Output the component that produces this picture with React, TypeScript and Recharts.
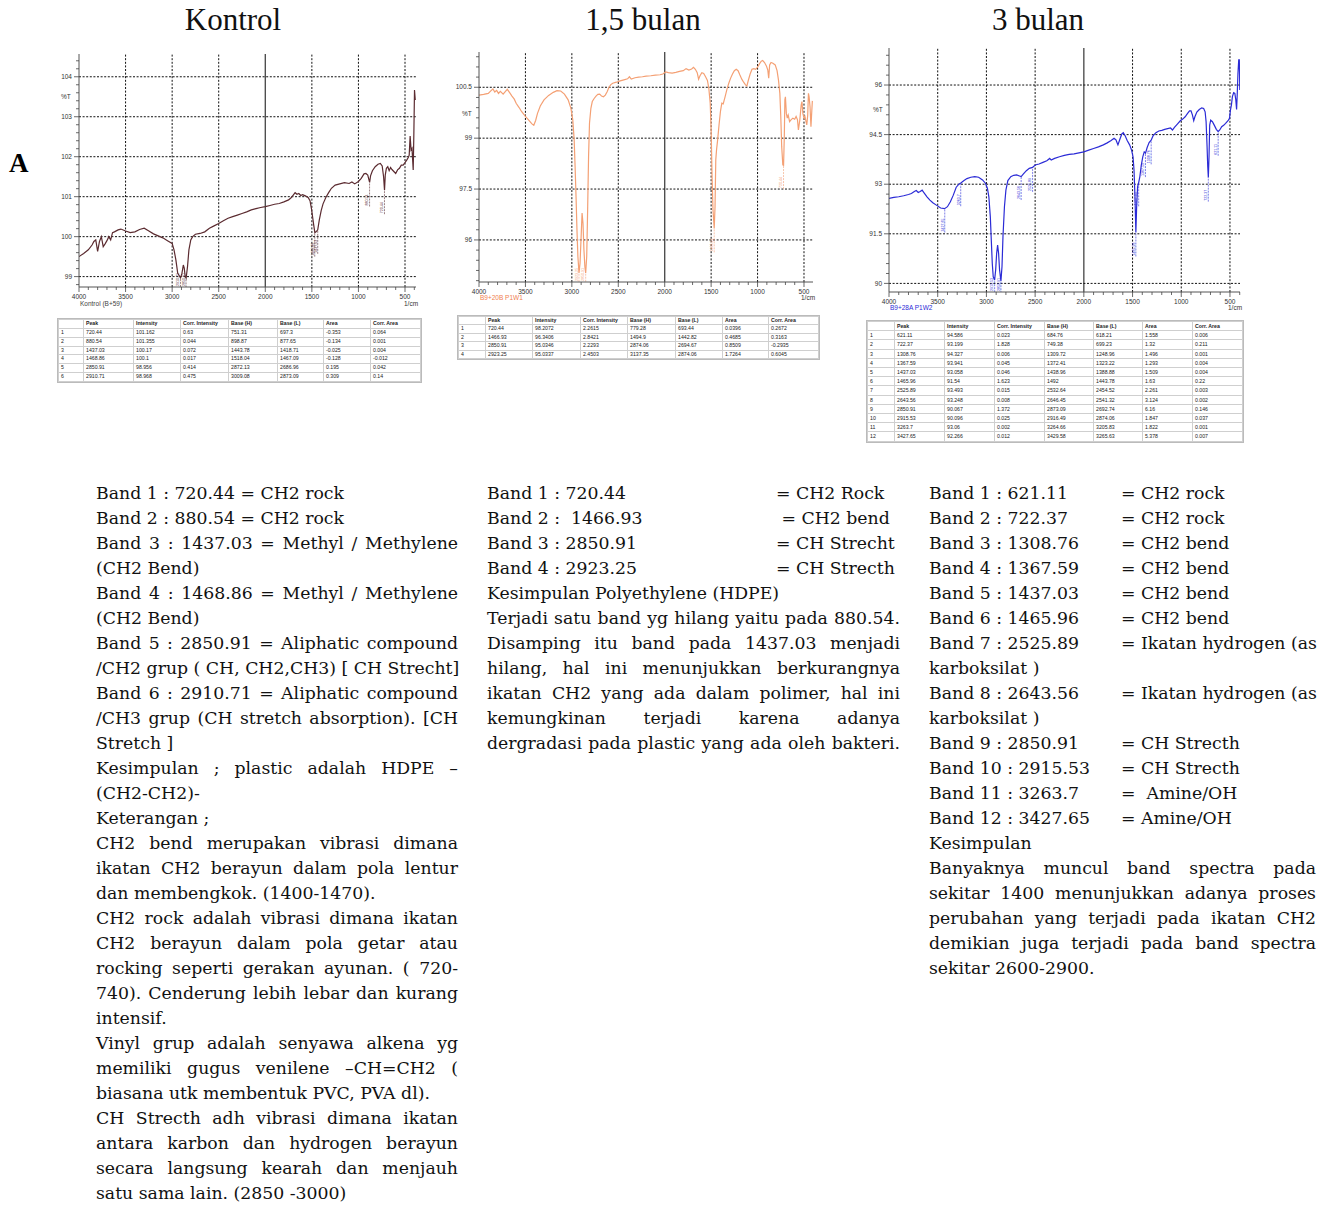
import { Line, LineChart, ReferenceLine, XAxis, YAxis } from 'recharts';

// ---- spectra (wavenumber 1/cm, %T) ----
const kontrolWn = [4000, 3950, 3900, 3860, 3840, 3820, 3800, 3780, 3760, 3740, 3720, 3700, 3680, 3660, 3640, 3620, 3580, 3550, 3500, 3450, 3400, 3350, 3300, 3250, 3200, 3150, 3100, 3050, 3000, 2980, 2960, 2940, 2910, 2895, 2880, 2870, 2860, 2850, 2835, 2820, 2800, 2780, 2750, 2700, 2650, 2600, 2550, 2500, 2450, 2400, 2350, 2300, 2250, 2200, 2150, 2100, 2050, 2000, 1950, 1900, 1850, 1800, 1750, 1720, 1700, 1680, 1660, 1640, 1620, 1600, 1570, 1540, 1520, 1505, 1490, 1480, 1468, 1455, 1437, 1420, 1400, 1380, 1350, 1320, 1290, 1250, 1200, 1150, 1100, 1070, 1040, 1000, 970, 940, 920, 900, 880, 870, 850, 820, 790, 765, 745, 730, 720, 712, 700, 685, 670, 655, 640, 620, 600, 580, 560, 540, 520, 500, 480, 465, 455, 445, 435, 425, 418, 412, 405, 398, 390];
const kontrolT = [99.5, 99.58, 99.67, 99.79, 99.88, 99.92, 99.63, 99.88, 100.0, 99.75, 99.82, 99.9, 100.0, 99.92, 100.1, 100.12, 100.17, 100.19, 100.14, 100.1, 100.12, 100.18, 100.21, 100.14, 100.07, 100.02, 99.97, 99.9, 99.83, 99.67, 99.42, 99.08, 98.97, 99.08, 99.29, 99.21, 99.0, 98.96, 99.25, 99.67, 99.92, 100.0, 100.06, 100.08, 100.12, 100.21, 100.27, 100.33, 100.4, 100.46, 100.5, 100.54, 100.58, 100.62, 100.67, 100.7, 100.73, 100.75, 100.78, 100.81, 100.83, 100.87, 100.92, 100.98, 101.04, 101.1, 101.06, 101.08, 101.03, 101.05, 101.02, 100.98, 100.9, 100.71, 100.46, 100.29, 100.1, 100.12, 100.17, 100.42, 100.65, 100.82, 100.98, 101.1, 101.21, 101.29, 101.32, 101.35, 101.33, 101.37, 101.32, 101.38, 101.46, 101.57, 101.58, 101.54, 101.36, 101.52, 101.65, 101.75, 101.81, 101.83, 101.77, 101.5, 101.16, 101.54, 101.71, 101.75, 101.65, 101.73, 101.68, 101.63, 101.58, 101.67, 101.71, 101.79, 101.79, 101.85, 101.92, 101.98, 102.04, 102.52, 102.17, 102.21, 101.92, 101.67, 102.58, 103.67, 103.42];

const bulan15Wn = [4000, 3950, 3900, 3870, 3850, 3830, 3810, 3790, 3770, 3740, 3715, 3695, 3670, 3645, 3620, 3600, 3570, 3540, 3500, 3460, 3430, 3410, 3390, 3370, 3340, 3300, 3250, 3200, 3160, 3120, 3080, 3040, 3010, 2990, 2975, 2965, 2955, 2945, 2935, 2923, 2912, 2900, 2890, 2880, 2870, 2860, 2851, 2840, 2830, 2820, 2810, 2795, 2780, 2760, 2740, 2720, 2700, 2680, 2660, 2640, 2620, 2600, 2580, 2560, 2520, 2480, 2440, 2400, 2380, 2360, 2320, 2280, 2240, 2200, 2150, 2100, 2050, 2020, 1990, 1960, 1920, 1880, 1840, 1800, 1770, 1740, 1710, 1690, 1670, 1650, 1635, 1620, 1600, 1580, 1560, 1540, 1525, 1510, 1500, 1490, 1480, 1467, 1458, 1450, 1442, 1430, 1415, 1400, 1385, 1370, 1350, 1330, 1310, 1290, 1270, 1250, 1230, 1210, 1190, 1170, 1150, 1130, 1115, 1100, 1080, 1060, 1040, 1020, 1000, 980, 960, 945, 925, 905, 890, 880, 870, 855, 835, 810, 790, 775, 760, 750, 740, 728, 720, 712, 706, 700, 690, 680, 670, 655, 640, 620, 600, 585, 570, 560, 545, 530, 522, 512, 500, 490, 478, 470, 460, 452, 445, 435, 425, 416, 410];
const bulan15T = [100.27, 100.29, 100.32, 100.4, 100.45, 100.36, 100.41, 100.32, 100.38, 100.3, 100.38, 100.44, 100.34, 100.24, 100.15, 100.03, 99.91, 99.78, 99.64, 99.52, 99.42, 99.38, 99.52, 99.73, 99.95, 100.13, 100.26, 100.35, 100.4, 100.39, 100.3, 100.13, 99.88, 99.54, 98.95, 98.16, 97.28, 96.3, 95.51, 95.03, 95.31, 96.1, 96.79, 96.49, 95.71, 95.22, 95.03, 95.51, 96.89, 98.46, 99.44, 99.88, 100.08, 100.17, 100.24, 100.29, 100.3, 100.24, 100.22, 100.27, 100.37, 100.5, 100.58, 100.62, 100.65, 100.69, 100.72, 100.75, 100.81, 100.74, 100.78, 100.8, 100.81, 100.83, 100.84, 100.86, 100.87, 100.89, 100.95, 100.93, 100.92, 100.94, 100.97, 100.99, 101.05, 101.01, 101.04, 101.09, 101.03, 100.93, 100.74, 100.84, 100.93, 100.91, 100.81, 100.7, 100.47, 100.03, 99.24, 97.87, 96.89, 96.34, 96.98, 98.36, 98.65, 98.95, 99.39, 99.78, 100.03, 100.01, 100.22, 100.44, 100.62, 100.77, 100.89, 100.99, 101.03, 100.99, 100.86, 100.74, 100.65, 100.57, 100.54, 100.7, 100.89, 101.03, 101.05, 101.03, 101.09, 101.19, 101.27, 101.29, 101.23, 101.13, 101.01, 100.77, 101.16, 101.23, 101.21, 101.16, 100.99, 100.72, 100.32, 99.64, 98.75, 98.21, 98.2, 99.05, 100.13, 100.22, 99.73, 99.59, 99.68, 99.49, 99.54, 99.59, 99.56, 99.64, 99.54, 99.24, 99.54, 99.98, 100.08, 99.73, 99.59, 99.64, 99.49, 99.39, 99.68, 100.32, 100.22, 99.93, 99.34, 99.8, 100.1];

const bulan3Wn = [4000, 3950, 3900, 3850, 3800, 3770, 3740, 3720, 3700, 3680, 3660, 3640, 3610, 3580, 3550, 3510, 3470, 3430, 3400, 3370, 3340, 3310, 3280, 3263, 3230, 3200, 3160, 3120, 3080, 3040, 3010, 2990, 2975, 2960, 2950, 2940, 2930, 2916, 2905, 2895, 2885, 2875, 2865, 2851, 2840, 2830, 2815, 2800, 2780, 2750, 2720, 2690, 2660, 2643, 2620, 2590, 2560, 2526, 2500, 2460, 2420, 2380, 2350, 2335, 2300, 2250, 2200, 2150, 2100, 2050, 2000, 1950, 1900, 1850, 1800, 1760, 1720, 1690, 1670, 1650, 1630, 1610, 1595, 1575, 1555, 1530, 1510, 1495, 1485, 1475, 1466, 1458, 1448, 1437, 1425, 1410, 1395, 1380, 1367, 1350, 1330, 1309, 1290, 1260, 1230, 1200, 1170, 1140, 1110, 1090, 1070, 1040, 1010, 985, 960, 935, 915, 900, 885, 872, 860, 840, 815, 790, 770, 755, 745, 735, 728, 722, 715, 708, 698, 680, 660, 640, 621, 605, 585, 565, 545, 520, 505, 495, 485, 475, 462, 450, 440, 432, 425, 418, 410, 404, 399];
const bulan3T = [92.57, 92.6, 92.62, 92.65, 92.69, 92.72, 92.78, 92.81, 92.75, 92.78, 92.82, 92.74, 92.62, 92.52, 92.44, 92.36, 92.28, 92.26, 92.32, 92.47, 92.67, 92.91, 93.01, 93.04, 93.11, 93.17, 93.21, 93.23, 93.21, 93.13, 93.03, 92.88, 92.62, 92.02, 91.31, 90.61, 90.2, 90.1, 90.41, 90.91, 91.16, 90.91, 90.41, 90.07, 90.51, 91.42, 92.32, 92.82, 93.11, 93.23, 93.27, 93.28, 93.25, 93.23, 93.31, 93.41, 93.48, 93.51, 93.58, 93.61, 93.66, 93.71, 93.78, 93.73, 93.78, 93.83, 93.87, 93.9, 93.92, 93.95, 93.98, 94.03, 94.08, 94.13, 94.19, 94.25, 94.32, 94.39, 94.34, 94.19, 94.36, 94.52, 94.56, 94.46, 94.32, 94.19, 94.03, 93.83, 93.43, 92.62, 91.54, 92.32, 92.93, 93.05, 93.23, 93.58, 93.83, 93.98, 93.94, 94.11, 94.26, 94.33, 94.46, 94.56, 94.61, 94.63, 94.66, 94.68, 94.7, 94.64, 94.72, 94.82, 94.92, 94.97, 95.04, 95.14, 95.22, 95.22, 95.09, 94.92, 95.04, 95.18, 95.26, 95.31, 95.29, 95.19, 94.89, 94.14, 93.53, 93.2, 93.83, 94.79, 94.94, 94.89, 94.78, 94.66, 94.59, 94.64, 94.74, 94.78, 94.84, 94.92, 94.99, 95.24, 95.4, 95.65, 95.77, 95.75, 95.55, 95.26, 95.75, 96.35, 96.76, 96.76, 95.85];

// ---- peak tables ----
const tableHeader = ['', 'Peak', 'Intensity', 'Corr. Intensity', 'Base (H)', 'Base (L)', 'Area', 'Corr. Area'];
const kontrolPeaks = [
  ['1', '720.44', '101.162', '0.63', '751.31', '697.3', '-0.353', '0.064'],
  ['2', '880.54', '101.355', '0.044', '898.87', '877.65', '-0.134', '0.001'],
  ['3', '1437.03', '100.17', '0.072', '1443.78', '1418.71', '-0.025', '0.004'],
  ['4', '1468.86', '100.1', '0.017', '1518.04', '1467.09', '-0.128', '-0.012'],
  ['5', '2850.91', '98.956', '0.414', '2872.13', '2686.96', '0.195', '0.042'],
  ['6', '2910.71', '98.968', '0.475', '3009.08', '2873.09', '0.309', '0.14'],
];
const bulan15Peaks = [
  ['1', '720.44', '98.2072', '2.2615', '779.28', '693.44', '0.0396', '0.2672'],
  ['2', '1466.93', '96.3406', '2.8421', '1494.9', '1442.82', '0.4685', '0.3163'],
  ['3', '2850.91', '95.0346', '2.2293', '2874.06', '2694.67', '0.8509', '-0.2935'],
  ['4', '2923.25', '95.0337', '2.4503', '3137.35', '2874.06', '1.7264', '0.6045'],
];
const bulan3Peaks = [
  ['1', '621.11', '94.586', '0.023', '684.76', '618.21', '1.558', '0.006'],
  ['2', '722.37', '93.199', '1.828', '749.38', '699.23', '1.32', '0.211'],
  ['3', '1308.76', '94.327', '0.006', '1309.72', '1248.96', '1.496', '0.001'],
  ['4', '1367.59', '93.941', '0.045', '1372.41', '1323.22', '1.293', '0.004'],
  ['5', '1437.03', '93.058', '0.046', '1438.96', '1388.88', '1.509', '0.004'],
  ['6', '1465.96', '91.54', '1.623', '1492', '1443.78', '1.63', '0.22'],
  ['7', '2525.89', '93.493', '0.015', '2532.64', '2454.52', '2.261', '0.003'],
  ['8', '2643.56', '93.248', '0.008', '2646.45', '2541.32', '3.124', '0.002'],
  ['9', '2850.91', '90.067', '1.372', '2873.09', '2692.74', '6.16', '0.146'],
  ['10', '2915.53', '90.096', '0.025', '2916.49', '2874.06', '1.847', '0.037'],
  ['11', '3263.7', '93.06', '0.002', '3264.66', '3205.83', '1.822', '0.001'],
  ['12', '3427.65', '92.266', '0.012', '3429.58', '3265.63', '5.378', '0.007'],
];

const xMajor = [4000, 3500, 3000, 2500, 2000, 1500, 1000, 500];
const kontrolYTicks = [99, 100, 101, 102, 103, 104];
const bulan15YTicks = [96, 97.5, 99, 100.5];
const bulan3YTicks = [90, 91.5, 93, 94.5, 96];

// ---- text below the charts: [text, justified] ----
const kontrolNotes: [string, boolean][] = [
  ['Band 1 : 720.44 = CH2 rock', false],
  ['Band 2 : 880.54 = CH2 rock', false],
  ['Band 3 : 1437.03 = Methyl / Methylene', true],
  ['(CH2 Bend)', false],
  ['Band 4 : 1468.86 = Methyl / Methylene', true],
  ['(CH2 Bend)', false],
  ['Band 5 : 2850.91 = Aliphatic compound', true],
  ['/CH2 grup ( CH, CH2,CH3) [ CH Strecht]', true],
  ['Band 6 : 2910.71 = Aliphatic compound', true],
  ['/CH3 grup (CH stretch absorption). [CH', true],
  ['Stretch ]', false],
  ['Kesimpulan ; plastic adalah HDPE \u2013', true],
  ['(CH2-CH2)-', false],
  ['Keterangan ;', false],
  ['CH2 bend merupakan vibrasi dimana', true],
  ['ikatan CH2 berayun dalam pola lentur', true],
  ['dan membengkok. (1400-1470).', false],
  ['CH2 rock adalah vibrasi dimana ikatan', true],
  ['CH2 berayun dalam pola getar atau', true],
  ['rocking seperti gerakan ayunan. ( 720-', true],
  ['740). Cenderung lebih lebar dan kurang', true],
  ['intensif.', false],
  ['Vinyl grup adalah senyawa alkena yg', true],
  ['memiliki gugus venilene \u2013CH=CH2 (', true],
  ['biasana utk membentuk PVC, PVA dl).', false],
  ['CH Strecth adh vibrasi dimana ikatan', true],
  ['antara karbon dan hydrogen berayun', true],
  ['secara langsung kearah dan menjauh', true],
  ['satu sama lain. (2850 -3000)', false],
];
const bulan15Bands: [string, string][] = [
  ['Band 1 : 720.44', '= CH2 Rock'],
  ['Band 2 :  1466.93', ' = CH2 bend'],
  ['Band 3 : 2850.91', '= CH Strecht'],
  ['Band 4 : 2923.25', '= CH Strecth'],
];
const bulan15Notes: [string, boolean][] = [
  ['Kesimpulan Polyethylene (HDPE)', false],
  ['Terjadi satu band yg hilang yaitu pada 880.54.', true],
  ['Disamping itu band pada 1437.03 menjadi', true],
  ['hilang, hal ini menunjukkan berkurangnya', true],
  ['ikatan CH2 yang ada dalam polimer, hal ini', true],
  ['kemungkinan terjadi karena adanya', true],
  ['dergradasi pada plastic yang ada oleh bakteri.', true],
];
const bulan3Bands: [string, string][] = [
  ['Band 1 : 621.11', '= CH2 rock'],
  ['Band 2 : 722.37', '= CH2 rock'],
  ['Band 3 : 1308.76', '= CH2 bend'],
  ['Band 4 : 1367.59', '= CH2 bend'],
  ['Band 5 : 1437.03', '= CH2 bend'],
  ['Band 6 : 1465.96', '= CH2 bend'],
  ['Band 7 : 2525.89', '= Ikatan hydrogen (as'],
  ['karboksilat )', ''],
  ['Band 8 : 2643.56', '= Ikatan hydrogen (as'],
  ['karboksilat )', ''],
  ['Band 9 : 2850.91', '= CH Strecth'],
  ['Band 10 : 2915.53', '= CH Strecth'],
  ['Band 11 : 3263.7', '=  Amine/OH'],
  ['Band 12 : 3427.65', '= Amine/OH'],
];
const bulan3Notes: [string, boolean][] = [
  ['Kesimpulan', false],
  ['Banyaknya muncul band spectra pada', true],
  ['sekitar 1400 menunjukkan adanya proses', true],
  ['perubahan yang terjadi pada ikatan CH2', true],
  ['demikian juga terjadi pada band spectra', true],
  ['sekitar 2600-2900.', false],
];

const serif = "'DejaVu Serif', serif";
const sans = "'Liberation Sans', Arial, sans-serif";
const LINE_H = 25;

interface SpectrumProps {
  wn: number[];
  t: number[];
  peaks: string[][];
  color: string;
  plotL: number;
  plotT: number;
  plotW: number;
  plotH: number;
  xMin: number;
  yMin: number;
  yMax: number;
  yTicks: number[];
  yMinorStep: number;
}

const ML = 40;
const MT = 10;
const MR = 10;
const XH = 22;

function Spectrum(p: SpectrumProps) {
  const data = p.wn.map((w, i) => ({ wn: w, t: p.t[i] }));
  const xTicks: number[] = [];
  for (let v = 4000; v >= p.xMin; v -= 100) xTicks.push(v);
  const yAll: number[] = [];
  const base = p.yTicks[0];
  for (let k = -20; k < 60; k++) {
    const v = +(base + k * p.yMinorStep).toFixed(3);
    if (v >= p.yMin && v <= p.yMax) yAll.push(v);
  }
  const isMajorY = (v: number) => p.yTicks.some((m) => Math.abs(m - v) < 1e-6);
  const plotBottom = MT + p.plotH;

  const XTick = ({ x, y, payload }: any) => {
    const major = payload.value % 500 === 0;
    return (
      <g>
        <line x1={x} x2={x} y1={y} y2={y + (major ? 5 : 3)} stroke="#444" strokeWidth={0.8} />
        {major && (
          <text x={x} y={y + 12} textAnchor="middle" fontSize={6.5} fontFamily={sans} fill="#333">
            {payload.value}
          </text>
        )}
      </g>
    );
  };
  const YTick = ({ x, y, payload }: any) => {
    const major = isMajorY(payload.value);
    return (
      <g>
        <line x1={x} x2={x - (major ? 5 : 3)} y1={y} y2={y} stroke="#444" strokeWidth={0.8} />
        {major && (
          <text x={x - 7} y={y + 2.2} textAnchor="end" fontSize={6.5} fontFamily={sans} fill="#333">
            {payload.value}
          </text>
        )}
      </g>
    );
  };
  const peakShape = (label: string) => (props: any) => {
    const { x1, y1 } = props;
    const len = Math.max(0, Math.min(24, plotBottom - y1));
    return (
      <g>
        <line x1={x1} x2={x1} y1={y1 + 1} y2={y1 + len} stroke={p.color} strokeWidth={0.6} strokeDasharray="2 1" />
        <text
          transform={`translate(${x1 - 1.2},${y1 + len - 1}) rotate(-90)`}
          fontSize={3.6}
          fontFamily={sans}
          fill={p.color}
        >
          {label}
        </text>
      </g>
    );
  };

  return (
    <div style={{ position: 'absolute', left: p.plotL - ML, top: p.plotT - MT }}>
      <LineChart
        width={p.plotW + ML + MR}
        height={p.plotH + MT + XH}
        data={data}
        margin={{ top: MT, right: MR, left: 0, bottom: 0 }}
      >
        <XAxis
          dataKey="wn"
          type="number"
          domain={[p.xMin, 4000]}
          reversed
          allowDataOverflow
          ticks={xTicks}
          interval={0}
          height={XH}
          tickSize={0}
          tickMargin={0}
          tick={<XTick />}
          axisLine={{ stroke: '#555' }}
        />
        <XAxis
          xAxisId="top"
          orientation="top"
          type="number"
          domain={[p.xMin, 4000]}
          reversed
          height={0}
          tick={false}
          tickLine={false}
          axisLine={{ stroke: '#555' }}
        />
        <YAxis
          type="number"
          domain={[p.yMin, p.yMax]}
          allowDataOverflow
          ticks={yAll}
          interval={0}
          width={ML}
          tickSize={0}
          tickMargin={0}
          tick={<YTick />}
          axisLine={{ stroke: '#555' }}
        />
        <YAxis
          yAxisId="right"
          orientation="right"
          type="number"
          domain={[p.yMin, p.yMax]}
          width={0}
          tick={false}
          tickLine={false}
          axisLine={{ stroke: '#555' }}
        />
        {xMajor.slice(1).map((v) => (
          <ReferenceLine
            key={'x' + v}
            x={v}
            stroke={v === 2000 ? '#444' : '#111'}
            strokeDasharray={v === 2000 ? undefined : '2 1.6'}
            strokeWidth={v === 2000 ? 1.3 : 1}
          />
        ))}
        {p.yTicks.map((v) => (
          <ReferenceLine key={'y' + v} y={v} stroke="#111" strokeDasharray="2 1.6" strokeWidth={1} />
        ))}
        <Line
          dataKey="t"
          type="linear"
          stroke={p.color}
          strokeWidth={1.2}
          dot={false}
          isAnimationActive={false}
        />
        {p.peaks.map((row) => (
          <ReferenceLine
            key={'p' + row[0]}
            segment={[
              { x: +row[1], y: +row[2] },
              { x: +row[1], y: +row[2] },
            ]}
            shape={peakShape(row[1])}
          />
        ))}
      </LineChart>
    </div>
  );
}

function PeakTable({ rows, left, top, widths, rowH }: { rows: string[][]; left: number; top: number; widths: number[]; rowH: number }) {
  const cell = (txt: string, i: number, head: boolean) => (
    <td
      key={i}
      style={{
        border: '1px solid #cfcfcf',
        padding: '0 0 0 2px',
        height: rowH - 1,
        lineHeight: `${rowH - 1}px`,
        overflow: 'hidden',
        whiteSpace: 'nowrap',
        fontWeight: head ? 700 : 400,
      }}
    >
      {txt}
    </td>
  );
  return (
    <table
      style={{
        position: 'absolute',
        left,
        top,
        borderCollapse: 'collapse',
        tableLayout: 'fixed',
        width: widths.reduce((a, b) => a + b, 0),
        fontFamily: sans,
        fontSize: 5.2,
        color: '#222',
        outline: '1px solid #bbb',
      }}
    >
      <colgroup>
        {widths.map((w, i) => (
          <col key={i} style={{ width: w }} />
        ))}
      </colgroup>
      <tbody>
        <tr>{tableHeader.map((h, i) => cell(h, i, true))}</tr>
        {rows.map((r, j) => (
          <tr key={j}>{r.map((c, i) => cell(c, i, false))}</tr>
        ))}
      </tbody>
    </table>
  );
}

function TextLines({ lines, left, top, width }: { lines: [string, boolean][]; left: number; top: number; width: number }) {
  return (
    <>
      {lines.map(([txt, just], i) => (
        <div
          key={i}
          style={{
            position: 'absolute',
            left,
            top: top + i * LINE_H,
            width,
            height: LINE_H,
            lineHeight: `${LINE_H}px`,
            fontFamily: serif,
            fontSize: 17.3,
            whiteSpace: 'nowrap',
            textAlign: just ? 'justify' : 'left',
            textAlignLast: just ? 'justify' : 'left',
            color: '#111',
          }}
        >
          {txt}
        </div>
      ))}
    </>
  );
}

function BandLines({ lines, left, top, tab }: { lines: [string, string][]; left: number; top: number; tab: number }) {
  return (
    <>
      {lines.map(([a, b], i) => (
        <div key={i} style={{ position: 'absolute', left, top: top + i * LINE_H, height: LINE_H, lineHeight: `${LINE_H}px`, fontFamily: serif, fontSize: 17.3, whiteSpace: 'pre', color: '#111' }}>
          {a}
          {b && <span style={{ position: 'absolute', left: tab, top: 0, whiteSpace: 'pre' }}>{b}</span>}
        </div>
      ))}
    </>
  );
}

const small = (left: number, top: number, txt: string, color = '#333') => (
  <div style={{ position: 'absolute', left, top, fontFamily: sans, fontSize: 6.5, color, whiteSpace: 'nowrap' }}>{txt}</div>
);

export default function App() {
  const titleStyle = (cx: number) => ({
    position: 'absolute' as const,
    left: cx - 100,
    width: 200,
    top: 2,
    textAlign: 'center' as const,
    fontFamily: "'Liberation Serif', 'Times New Roman', serif",
    fontSize: 31,
    color: '#111',
  });
  return (
    <div style={{ position: 'absolute', left: 0, top: 0, width: 1328, height: 1207, background: '#fff', overflow: 'hidden' }}>
      <div style={titleStyle(233)}>Kontrol</div>
      <div style={titleStyle(643)}>1,5 bulan</div>
      <div style={titleStyle(1038)}>3 bulan</div>
      <div style={{ position: 'absolute', left: 9, top: 148, fontFamily: "'Liberation Serif', serif", fontWeight: 700, fontSize: 27 }}>A</div>

      <Spectrum wn={kontrolWn} t={kontrolT} peaks={kontrolPeaks} color="#5b2b30" plotL={79} plotT={54} plotW={337} plotH={233} xMin={382} yMin={98.74} yMax={104.57} yTicks={kontrolYTicks} yMinorStep={0.2} />
      <Spectrum wn={bulan15Wn} t={bulan15T} peaks={bulan15Peaks} color="#f4a074" plotL={479} plotT={52} plotW={334} plotH={230} xMin={403} yMin={94.76} yMax={101.54} yTicks={bulan15YTicks} yMinorStep={0.3} />
      <Spectrum wn={bulan3Wn} t={bulan3T} peaks={bulan3Peaks} color="#2b2bd6" plotL={889} plotT={48} plotW={351} plotH={244} xMin={397} yMin={89.74} yMax={97.12} yTicks={bulan3YTicks} yMinorStep={0.3} />

      {small(61, 93, '%T')}
      {small(462, 110, '%T')}
      {small(873, 106, '%T')}
      {small(80, 300, 'Kontrol (B+59)', '#444')}
      {small(404, 300, '1/cm')}
      {small(480, 294, 'B9+20B P1W1', '#f08050')}
      {small(801, 294, '1/cm')}
      {small(890, 304, 'B9+28A P1W2', '#2b2bd6')}
      {small(1228, 304, '1/cm')}

      <PeakTable rows={kontrolPeaks} left={58} top={319} widths={[25, 50, 47, 48, 49, 46, 47, 50]} rowH={8.85} />
      <PeakTable rows={bulan15Peaks} left={458} top={316} widths={[27, 47, 48, 47, 48, 47, 46, 50]} rowH={8.4} />
      <PeakTable rows={bulan3Peaks} left={867} top={321} widths={[27, 50, 50, 50, 49, 49, 50, 50]} rowH={9.2} />

      <TextLines lines={kontrolNotes} left={96} top={481} width={362} />
      <BandLines lines={bulan15Bands} left={487} top={481} tab={289} />
      <TextLines lines={bulan15Notes} left={487} top={481 + 4 * LINE_H} width={413} />
      <BandLines lines={bulan3Bands} left={929} top={481} tab={192} />
      <TextLines lines={bulan3Notes} left={929} top={481 + 14 * LINE_H} width={387} />
    </div>
  );
}
